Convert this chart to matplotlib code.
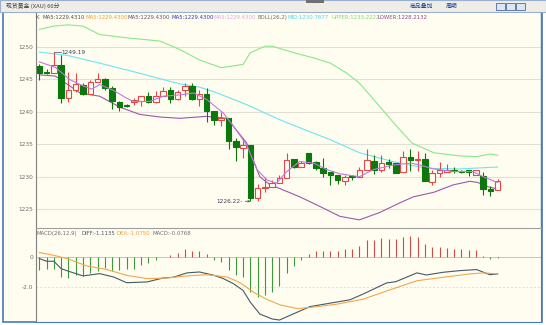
import matplotlib
matplotlib.use("Agg")
import matplotlib.pyplot as plt
from matplotlib.patches import Rectangle

# ---- candle data ----
opens = [1247.0, 1246.05, 1246.0, 1247.2, 1242.1, 1243.4, 1244.1, 1242.7, 1244.6, 1245.0,
         1243.7, 1241.5, 1241.0, 1241.5, 1241.7, 1242.4, 1241.5, 1242.4, 1243.3, 1242.0,
         1243.3, 1244.0, 1242.0, 1242.7, 1240.2, 1238.7, 1239.0, 1235.5, 1234.4, 1234.9,
         1226.7, 1228.2, 1228.4, 1229.1, 1229.8, 1232.7, 1231.5, 1233.6, 1232.2, 1231.3,
         1230.7, 1230.3, 1229.4, 1230.1, 1230.0, 1231.1, 1232.4, 1231.1, 1232.3, 1232.1,
         1230.7, 1233.0, 1232.5, 1232.7, 1229.2, 1230.5, 1230.8, 1231.1, 1230.9, 1231.0,
         1230.3, 1230.1, 1228.1, 1227.9]
highs = [1247.3, 1246.6, 1249.19, 1248.8, 1246.2, 1246.0, 1244.5, 1244.9, 1246.0, 1245.2,
         1244.0, 1241.6, 1241.2, 1242.1, 1242.5, 1243.0, 1243.2, 1243.8, 1243.8, 1243.3,
         1244.5, 1244.5, 1243.4, 1243.7, 1240.2, 1239.9, 1239.0, 1235.9, 1236.0, 1234.9,
         1228.9, 1230.0, 1229.5, 1230.3, 1233.7, 1232.8, 1232.4, 1233.7, 1232.4, 1232.9,
         1230.7, 1230.3, 1230.3, 1230.3, 1231.5, 1234.2, 1233.4, 1233.4, 1232.7, 1232.1,
         1233.9, 1234.3, 1234.0, 1233.6, 1231.1, 1232.2, 1231.9, 1231.5, 1231.1, 1231.1,
         1231.1, 1230.7, 1228.5, 1229.6]
lows = [1244.9, 1245.9, 1246.0, 1241.4, 1241.5, 1243.0, 1242.6, 1242.7, 1244.6, 1243.4,
        1240.4, 1240.2, 1240.7, 1241.1, 1240.9, 1241.4, 1241.4, 1242.4, 1241.4, 1241.8,
        1242.4, 1241.8, 1240.9, 1238.5, 1237.9, 1237.8, 1234.3, 1232.4, 1232.9, 1226.22,
        1226.3, 1227.7, 1228.4, 1229.1, 1229.8, 1231.3, 1231.5, 1231.9, 1231.1, 1230.0,
        1228.8, 1228.9, 1228.8, 1229.5, 1230.0, 1231.1, 1230.4, 1230.8, 1231.4, 1230.5,
        1230.7, 1230.9, 1230.9, 1229.3, 1228.8, 1229.9, 1230.7, 1230.6, 1230.5, 1230.1,
        1230.3, 1227.2, 1227.0, 1227.9]
closes = [1246.0, 1246.0, 1247.2, 1242.2, 1243.4, 1244.3, 1242.8, 1244.6, 1245.0, 1243.6,
          1241.6, 1240.8, 1240.9, 1241.8, 1242.5, 1241.5, 1242.4, 1243.2, 1241.9, 1243.1,
          1244.0, 1241.9, 1242.7, 1240.2, 1238.8, 1239.0, 1235.5, 1234.6, 1234.9, 1226.7,
          1228.2, 1228.4, 1229.1, 1229.8, 1232.6, 1231.5, 1232.1, 1232.1, 1231.3, 1230.6,
          1230.2, 1229.5, 1230.0, 1230.0, 1231.0, 1232.5, 1231.0, 1232.1, 1231.9, 1230.6,
          1233.0, 1232.5, 1232.7, 1229.3, 1230.5, 1231.1, 1231.1, 1230.9, 1230.8, 1230.7,
          1231.0, 1228.1, 1227.8, 1229.4]

# ---- indicator lines (candle position, value) ----
upper_pos = [0, 2, 4, 6, 8.3, 12, 16.6, 19.3, 22, 25, 28, 29, 31, 32, 35, 37.7, 40, 42.2, 44,
             46.8, 48.7, 51.2, 54.2, 57.8, 60.1, 62, 63]
upper_val = [1252.7, 1253.2, 1253.4, 1253.2, 1251.9, 1251.4, 1250.9, 1249.6, 1248.0, 1246.8,
             1247.3, 1249.1, 1250.1, 1250.1, 1249.1, 1248.3, 1247.5, 1246.0, 1244.4,
             1240.8, 1238.3, 1235.2, 1233.7, 1233.2, 1233.1, 1233.5, 1233.3]
mid_pos = [0, 3.8, 8.3, 12.9, 19.3, 22, 24, 28.5, 33, 37.7, 40, 44, 48.7, 53.2, 57.8, 63]
mid_val = [1249.2, 1248.7, 1247.5, 1246.2, 1244.3, 1243.8, 1243.1, 1241.1, 1238.8, 1236.7,
           1235.7, 1233.7, 1232.3, 1231.3, 1231.2, 1231.5]
lower_pos = [0, 2.2, 5.6, 8.3, 11.1, 13.8, 16.6, 19.3, 23, 25.8, 28.5, 30.3, 31.7, 33, 35.8,
             38.6, 41.3, 44, 46.8, 49.6, 51.4, 54.2, 56.9, 59.2, 60.3, 61.5, 63]
lower_val = [1245.7, 1245.5, 1242.9, 1242.4, 1240.7, 1239.6, 1239.2, 1239.0, 1239.3, 1239.0,
             1235.2, 1230.0, 1228.75, 1228.2, 1226.9, 1225.4, 1223.9, 1223.35, 1224.5, 1226.0,
             1226.9, 1227.6, 1228.75, 1229.3, 1229.1, 1228.5, 1228.1]
ma_pos = [0, 2.2, 4.2, 6, 7.2, 8.3, 10.2, 12, 12.9, 15.2, 17, 19.3, 21.2, 23, 25.3, 26.7, 28.5,
          29.9, 31.3, 32.6, 34, 35.8, 37.7, 39.5, 41.3, 44, 45.9, 48.7, 51, 52.3, 54.2, 56.9,
          59.6, 61, 63]
ma_val = [1247.7, 1246.85, 1244.95, 1244.0, 1243.5, 1244.2, 1243.3, 1242.1, 1241.6, 1241.6,
          1242.4, 1242.6, 1242.9, 1241.9, 1239.8, 1237.75, 1234.9, 1231.1, 1229.5, 1229.0,
          1230.8, 1232.35, 1232.1, 1231.1, 1230.45, 1230.0, 1231.1, 1231.8, 1232.1, 1231.8,
          1231.2, 1230.8, 1230.8, 1230.0, 1229.1]

# ---- MACD panel ----
macd_bars = [-0.87, -0.8, -0.76, -1.31, -1.38, -1.2, -1.24, -1.02, -0.91, -0.69,
             -0.91, -0.87, -0.76, -0.76, -0.49, -0.38, -0.18, 0.02, 0.13, 0.27,
             0.53, 0.44, 0.44, 0.18, -0.18, -0.33, -0.84, -1.2, -1.33, -2.31,
             -2.64, -2.53, -2.33, -1.89, -1.07, -0.6, -0.16, 0.22, 0.4, 0.44,
             0.44, 0.44, 0.51, 0.51, 0.73, 1.11, 1.11, 1.29, 1.2, 1.18,
             1.33, 1.38, 1.33, 0.84, 0.64, 0.64, 0.6, 0.56, 0.51, 0.47,
             0.47, 0.11, -0.11, -0.07]
diff_pos = [0, 1, 2, 3, 4, 6, 8.3, 10.2, 12, 14.8, 17, 18.4, 20.3, 22, 24, 25.3, 26.7, 28, 29,
            30.3, 32, 33, 34.5, 37.2, 40, 42.7, 44.5, 47.7, 49, 51.9, 53.2, 55.5, 57.8, 60.1,
            61.9, 63]
diff_val = [-0.09, -0.27, -0.27, -0.76, -0.93, -1.24, -1.09, -1.31, -1.69, -1.64, -1.38, -1.33,
            -1.04, -0.98, -1.2, -1.42, -1.76, -2.2, -2.98, -3.76, -4.09, -4.16, -3.84, -3.27,
            -3.04, -2.82, -2.44, -1.71, -1.62, -1.04, -1.18, -1.0, -0.89, -0.82, -1.16, -1.11]
dea_pos = [0, 1.9, 3.8, 6.5, 9.3, 12, 14.8, 17.5, 20.3, 23, 25.8, 27.6, 29.4, 31.3, 33.1, 35.4,
           37.2, 40.9, 44.5, 48.2, 51.9, 55.5, 59.2, 61, 63]
dea_val = [0.31, 0.13, -0.09, -0.58, -0.82, -1.2, -1.42, -1.38, -1.24, -1.16, -1.31, -1.69,
           -2.31, -2.8, -3.16, -3.4, -3.33, -3.11, -2.78, -2.16, -1.56, -1.33, -1.11, -1.04, -1.11]

price_ticks = [1225, 1230, 1235, 1240, 1245, 1250]

BG = "#fffdf0"
GRID = "#e2e0d6"
UP = "#e04848"
DOWN = "#0a780a"
W, H = 546, 325

fig = plt.figure(figsize=(5.46, 3.25), dpi=100)
fig.patch.set_facecolor("white")
num = "DejaVu Sans"
cjk = ["Noto Sans CJK SC", "DejaVu Sans"]


def px(x0, y0, w, h):
    return [x0 / W, 1 - (y0 + h) / H, w / W, h / H]


# outer frame, left panel and title bar
fig.patches.append(Rectangle((3 / W, 1 - 321.7 / H), 538.7 / W, 309.7 / H,
                             transform=fig.transFigure, facecolor=BG,
                             edgecolor="#4a78c0", lw=1.2, zorder=-5))
fig.patches.append(Rectangle((0, 1 - 12 / H), 1, 12 / H, transform=fig.transFigure,
                             facecolor="#efeee6", edgecolor="#9aaed0", lw=0.8, zorder=-4))
fig.patches.append(Rectangle((306 / W, 1 - 2.5 / H), 18 / W, 2.5 / H, transform=fig.transFigure,
                             facecolor="#707070", edgecolor="none", zorder=-3))
fig.text(6 / W, 1 - 6 / H, "现货黄金 (XAU) 60分", family=cjk, fontsize=4.2,
         color="#404040", va="center")
fig.text(410 / W, 1 - 6 / H, "商品叠加", family=cjk, fontsize=4.2, color="#2040a0",
         va="center")
fig.text(446 / W, 1 - 6 / H, "周期", family=cjk, fontsize=4.2, color="#2040a0", va="center")
for bx in (496, 506, 516):
    fig.patches.append(Rectangle((bx / W, 1 - 9.5 / H), 9 / W, 7 / H, transform=fig.transFigure,
                                 facecolor="#dfe6f2", edgecolor="#4a6aa8", lw=0.6, zorder=-3))

# ---- main price panel ----
ax = fig.add_axes(px(35.7, 12.5, 505.3, 215.5))
ax.set_zorder(2)
ax.set_facecolor(BG)
n = len(opens)
xs = list(range(n))
for i in xs:
    o, h, l, c = opens[i], highs[i], lows[i], closes[i]
    col = UP if c > o else DOWN
    ax.vlines(i, l, h, color=col, lw=0.8, zorder=3)
    bottom = min(o, c)
    height = max(abs(c - o), 0.06)
    face = BG if c > o else DOWN
    ax.add_patch(Rectangle((i - 0.38, bottom), 0.76, height, facecolor=face,
                           edgecolor=col, lw=0.8, zorder=4))

ax.plot(upper_pos, upper_val, color="#88e888", lw=0.8, zorder=2)
ax.plot(mid_pos, mid_val, color="#6ee4f0", lw=0.8, zorder=2)
ax.plot(lower_pos, lower_val, color="#9a5aa8", lw=0.8, zorder=2)
ax.plot(ma_pos, ma_val, color="#c078e0", lw=0.8, zorder=5)

# high / low markers
hi_i = highs.index(max(highs))
lo_i = lows.index(min(lows))
ax.plot([hi_i, hi_i + 1.0], [highs[hi_i]] * 2, color="#404060", lw=0.5, zorder=6)
ax.text(hi_i + 1.0, highs[hi_i], "%.2f" % highs[hi_i], fontsize=4.2, family=num,
        color="#404060", va="center", ha="left", zorder=6)
ax.annotate("%.2f-" % lows[lo_i], xy=(lo_i, lows[lo_i]), xytext=(lo_i - 1.1, lows[lo_i]),
            fontsize=4.2, family=num, color="#404060", va="center", ha="right",
            arrowprops=dict(arrowstyle="->", color="#404060", lw=0.5,
                            shrinkA=0, shrinkB=0, mutation_scale=3))

ax.set_xlim(-0.5, 68.95)
ax.set_ylim(1222.1, 1255.3)
ax.set_yticks(price_ticks)
ax.set_yticklabels([str(t) for t in price_ticks])
ax.tick_params(axis="y", length=0, pad=2, labelsize=4.2, labelcolor="#707070")
ax.set_xticks([])
ax.grid(axis="y", color=GRID, lw=0.8)
ax.set_axisbelow(True)
for s in ("top", "bottom"):
    ax.spines[s].set_visible(False)
ax.spines["left"].set_color("#808080")
ax.spines["left"].set_linewidth(0.8)
ax.spines["right"].set_color("#4a78c0")
ax.spines["right"].set_linewidth(1.0)

hdr = [("K", 35.5, "#505050"), ("MA5:1229.4310", 42.7, "#505050"),
       ("MA5:1229.4300", 85, "#f0a040"), ("MA5:1229.4300", 128, "#6a5070"),
       ("MA5:1229.4300", 171, "#3838c0"), ("MA5:1229.4300", 213, "#e0a8e8"),
       ("BOLL(26,2)", 258, "#707070"), ("MID:1230.7677", 288, "#50d8f0"),
       ("UPPER:1233.2222", 331, "#80d880"), ("LOWER:1228.2132", 378, "#8a4a98")]
for txt, x0, colr in hdr:
    fig.text(x0 / W, 1 - 17.3 / H, txt, fontsize=3.9, family=num, color=colr, va="center",
             zorder=10)

# ---- MACD panel ----
mx = fig.add_axes(px(35.7, 228, 505.3, 93.7))
mx.set_zorder(2)
mx.set_facecolor(BG)
bar_cols = ["#d04848" if v > 0 else "#3c9a3c" for v in macd_bars]
mx.vlines(xs, 0, macd_bars, colors=bar_cols, lw=0.8, zorder=3)
mx.plot(diff_pos, diff_val, color="#485868", lw=0.8, zorder=4)
mx.plot(dea_pos, dea_val, color="#f0a848", lw=0.8, zorder=4)
mx.set_xlim(-0.5, 68.95)
mx.set_ylim(-4.27, 1.93)
mx.set_yticks([0, -2])
mx.set_yticklabels(["0", "-2.0"])
mx.tick_params(axis="y", length=0, pad=2, labelsize=4.2, labelcolor="#707070")
mx.set_xticks([])
mx.axhline(0, color="#c8c6bc", lw=0.7, zorder=1)
mx.axhline(-2, color=GRID, lw=0.7, ls=(0, (2, 2)), zorder=1)
mx.spines["top"].set_color("#a0a0a0")
mx.spines["top"].set_linewidth(0.8)
mx.spines["left"].set_color("#808080")
mx.spines["left"].set_linewidth(0.8)
mx.spines["right"].set_color("#4a78c0")
mx.spines["bottom"].set_color("#4a78c0")

mhdr = [("MACD(26,12,9)", 36.7, "#707070"), ("DIFF:-1.1135", 81, "#485868"),
        ("DEA:-1.0750", 116.7, "#f0a040"), ("MACD:-0.0768", 152.7, "#707070")]
for txt, x0, colr in mhdr:
    fig.text(x0 / W, 1 - 233.3 / H, txt, fontsize=3.9, family=num, color=colr, va="center",
             zorder=10)

fig.savefig("out.png", dpi=100, facecolor=fig.get_facecolor())
